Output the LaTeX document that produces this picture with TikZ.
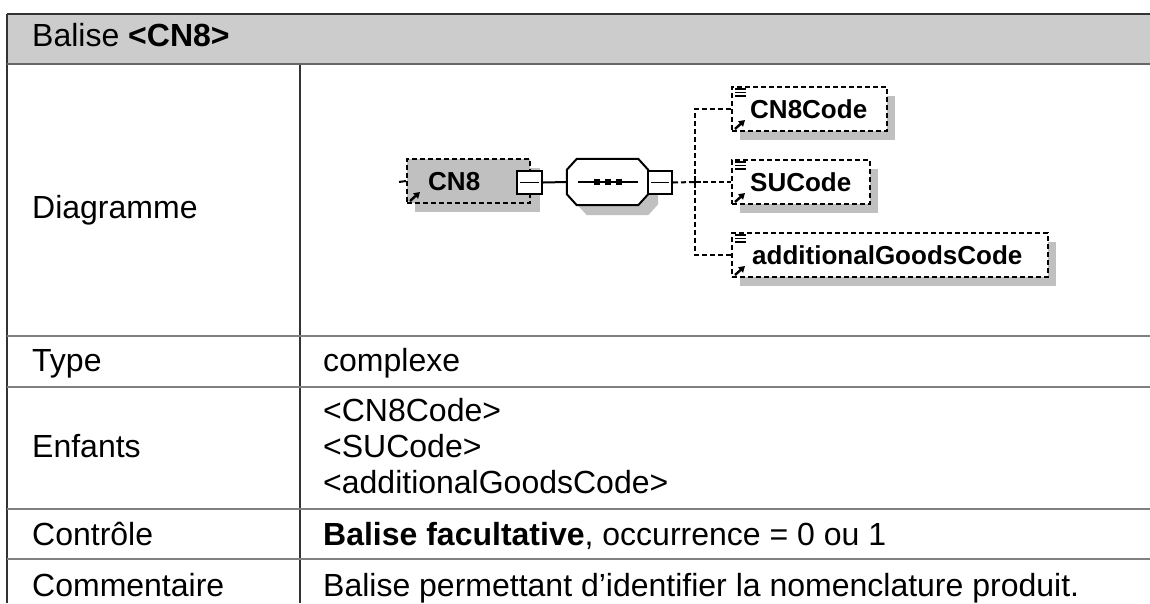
\documentclass[tikz,border=0pt]{standalone}
\usepackage{fontspec}
\setmainfont{Liberation Sans}
\usetikzlibrary{arrows.meta,shadows}
\definecolor{hdr}{HTML}{CCCCCC}
\definecolor{shd}{HTML}{C0C0C0}
\definecolor{rule}{HTML}{808080}
\definecolor{dark}{HTML}{333333}
\newcommand\xmlarrow[1]{%
  \draw[line width=2.4pt,-{Triangle[length=6pt,width=7pt]}] ([shift={(4,-3)}]#1.south west) -- ([shift={(14,-12)}]#1.south west);}
\newcommand\xmllines[1]{%
  \foreach \dy in {3,6.5,10}{\draw[line width=1.2pt] ([shift={(4,\dy)}]#1.north west) -- ++(11,0);}}
\newcommand\octpath[1]{([xshift=10pt]#1.north west) -- ([xshift=-10pt]#1.north east) -- ([yshift=-11pt]#1.north east)
  -- ([yshift=11pt]#1.south east) -- ([xshift=-10pt]#1.south east) -- ([xshift=10pt]#1.south west)
  -- ([yshift=11pt]#1.south west) -- ([yshift=-11pt]#1.north west) -- cycle}
\begin{document}
\begin{tikzpicture}[x=1pt,y=-1pt,
  tbl/.style={font=\fontsize{32}{38}\selectfont, anchor=base west, inner sep=0},
  xml/.style={font=\fontsize{26}{30}\selectfont\bfseries, anchor=base west, inner sep=0},
  elembox/.style={draw, line width=2pt, dash pattern=on 5pt off 3pt, minimum height=44pt, inner sep=0,
    drop shadow={shadow xshift=8pt, shadow yshift=-9pt, fill=shd, opacity=1}},
  minusbox/.style={draw, line width=2pt, fill=white, minimum width=25pt, minimum height=23pt, inner sep=0},
  seqframe/.style={minimum width=81pt, minimum height=46pt, inner sep=0},
  conn/.style={line width=2pt},
  dconn/.style={line width=2pt, dash pattern=on 5pt off 3pt}]
\useasboundingbox (0,0) rectangle (1150,603);
% ---- table ----
\fill[hdr] (7,14) rectangle (1150,64);
\draw[dark, line width=2pt] (7,14) -- (1150,14);
\draw[dark, line width=1.2pt] (7,14) -- (7,603);
\draw[dark, line width=1.2pt] (300,64) -- (300,603);
\draw[rule!80!black, line width=2pt] (7,64) -- (1150,64);
\foreach \yy in {336,387,509,559}{\draw[rule, line width=2pt] (7,\yy) -- (1150,\yy);}
\node[tbl] (title) at (32,46) {Balise \textbf{<CN8>}};
\node[tbl] (ldiag) at (32,218) {Diagramme};
\node[tbl] (ltype) at (32,371) {Type};
\node[tbl] (lenf) at (32,457) {Enfants};
\node[tbl] (lctl) at (32,545) {Contrôle};
\node[tbl] (lcom) at (32,596) {Commentaire};
\node[tbl] (vtype) at (323,371) {complexe};
\node[tbl] (venf1) at (323,421) {<CN8Code>};
\node[tbl] (venf2) at (323,457) {<SUCode>};
\node[tbl] (venf3) at (323,493) {<additionalGoodsCode>};
\node[tbl] (vctl) at (323,545) {\textbf{Balise facultative}, occurrence = 0 ou 1};
\node[tbl] (vcom) at (323,596) {Balise permettant d’identifier la nomenclature produit.};
% ---- diagram ----
\node[elembox, fill=shd, minimum width=123pt, drop shadow={shadow xshift=10pt, shadow yshift=-9pt, fill=shd, opacity=1}] (root) at (468.5,181) {};
\node[xml] (roott) at (428,190) {CN8};
\xmlarrow{root}
\coordinate (rootin) at (399,182);
\draw[conn] (rootin) -- (root.west);
\node[minusbox] (m1) at (529.5,182.5) {};
\draw[line width=1.6pt] ([xshift=4pt]m1.west) -- ([xshift=-4pt]m1.east);
% sequence compositor (octagon)
\node[seqframe] (seqsh) at (617.5,192) {};
\node[seqframe] (seq) at (607.5,182) {};
\fill[shd] \octpath{seqsh};
\filldraw[fill=white, line width=2pt] \octpath{seq};
\draw[line width=2pt] ([xshift=-30pt]seq.center) -- ([xshift=30pt]seq.center);
\foreach \dx in {-11,0,11}{\fill ([shift={(\dx-3,-3)}]seq.center) rectangle ++(6,6);}
\node[minusbox, minimum width=24pt] (m2) at (660,182.5) {};
\draw[line width=1.6pt] ([xshift=4pt]m2.west) -- ([xshift=-4pt]m2.east);
\draw[conn] (m1.east) -- (seq.west);
\coordinate (j) at (695,182);
\node[elembox, fill=white, minimum width=155pt] (c1) at (809.5,109) {};
\node[elembox, fill=white, minimum width=138pt] (c2) at (801,182) {};
\node[elembox, fill=white, minimum width=316pt] (c3) at (890,255) {};
\node[xml] (c1t) at (750,118) {CN8Code};
\node[xml] (c2t) at (750,191) {SUCode};
\node[xml] (c3t) at (752,264) {additionalGoodsCode};
\foreach \n in {c1,c2,c3}{\xmlarrow{\n}\xmllines{\n}}
\draw[dconn] (m2.east) -- (j);
\draw[dconn] (c1.west) -| (j);
\draw[dconn] (j) |- (c3.west);
\draw[dconn] (j) -- (c2.west);
\draw[line width=2pt] ([xshift=-6pt]j) -- ([xshift=6pt]j) ([yshift=-6pt]j) -- ([yshift=6pt]j);
\end{tikzpicture}
\end{document}
